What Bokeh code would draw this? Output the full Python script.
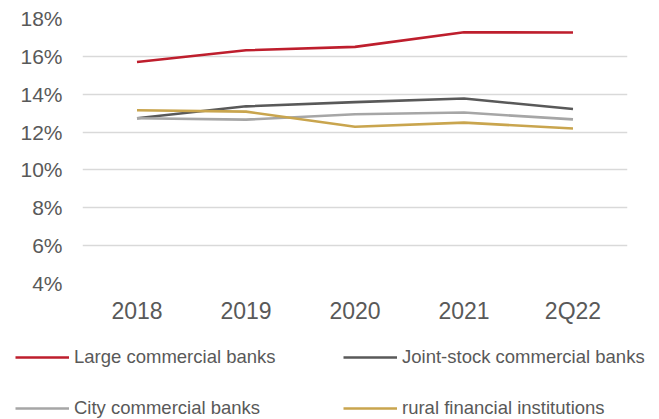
from bokeh.plotting import figure
from bokeh.layouts import column
from bokeh.models import FactorRange, Range1d, Legend, LegendItem, FixedTicker, ColumnDataSource, CustomJSTickFormatter
from bokeh.embed import file_html
from bokeh.resources import INLINE

categories = ["2018", "2019", "2020", "2021", "2Q22"]
large_commercial = [15.70, 16.32, 16.50, 17.27, 17.26]
joint_stock = [12.73, 13.36, 13.58, 13.77, 13.22]
city_commercial = [12.73, 12.66, 12.94, 13.03, 12.67]
rural_financial = [13.15, 13.08, 12.28, 12.50, 12.19]
y_ticks = [4, 6, 8, 10, 12, 14, 16, 18]

series = [
    ("Large commercial banks", large_commercial, "#BE1E2D"),
    ("Joint-stock commercial banks", joint_stock, "#595959"),
    ("City commercial banks", city_commercial, "#A6A6A6"),
    ("rural financial institutions", rural_financial, "#C9A54E"),
]

FONT = "Liberation Sans"
TXT = "#595959"

p = figure(width=659, height=335, x_range=FactorRange(*categories),
           y_range=Range1d(4, 18), output_backend="svg", toolbar_location=None,
           min_border_left=82, min_border_right=32, min_border_top=18,
           min_border_bottom=52)
p.frame_align = False
p.outline_line_color = None
p.background_fill_color = "white"
p.border_fill_color = "white"

p.xgrid.grid_line_color = None
p.ygrid.grid_line_color = "#D9D9D9"
p.ygrid.grid_line_width = 1.5
p.yaxis.ticker = FixedTicker(ticks=y_ticks)
p.yaxis.formatter = CustomJSTickFormatter(code="return tick + '%';")

for ax in (p.xaxis[0], p.yaxis[0]):
    ax.axis_line_color = None
    ax.major_tick_line_color = None
    ax.minor_tick_line_color = None
    ax.major_tick_out = 0
    ax.major_tick_in = 0
    ax.minor_tick_out = 0
    ax.major_label_text_font = FONT
    ax.major_label_text_color = TXT
p.yaxis.major_label_text_font_size = "21px"
p.yaxis.major_label_standoff = 20
p.xaxis.major_label_text_font_size = "23px"
p.xaxis.major_label_standoff = 14

# legend panel: a second figure; its lines hold the same data but lie outside its range
lg = figure(width=659, height=84, output_backend="svg", toolbar_location=None,
            x_axis_type=None, y_axis_type=None, min_border=0,
            x_range=FactorRange(*categories), y_range=Range1d(100, 101))
lg.frame_align = False
lg.outline_line_color = None
lg.xgrid.visible = False
lg.ygrid.visible = False

items = []
for name, vals, color in series:
    src = ColumnDataSource(dict(x=categories, y=vals))
    p.line("x", "y", source=src, line_color=color, line_width=2.6)
    r = lg.line("x", "y", source=src, line_color=color, line_width=2.6)
    items.append(LegendItem(label=name, renderers=[r]))

legend = Legend(items=items, location=(15, 0), orientation="horizontal", ncols=2,
                glyph_width=54, glyph_height=20, label_height=20, label_width=240,
                label_standoff=5, spacing=29, padding=0, margin=0,
                border_line_color=None, background_fill_alpha=0,
                label_text_font=FONT, label_text_font_size="18.5px",
                label_text_color=TXT)
lg.add_layout(legend, "center")

layout = column(p, lg, spacing=0)
open("out.html", "w").write(file_html(layout, INLINE))
